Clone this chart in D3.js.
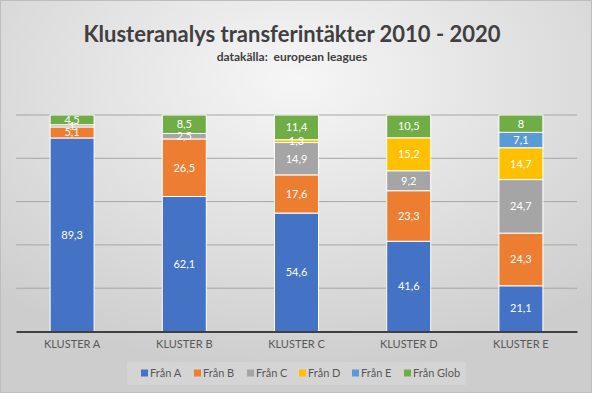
<!DOCTYPE html>
<html><head><meta charset="utf-8">
<script src="https://cdn.jsdelivr.net/npm/d3@7/dist/d3.min.js"></script>
<style>html,body{margin:0;padding:0;}svg{display:block;}</style>
</head><body>
<script>
const categories = ["KLUSTER A","KLUSTER B","KLUSTER C","KLUSTER D","KLUSTER E"];
const seriesNames = ["Från A","Från B","Från C","Från D","Från E","Från Glob"];
const franA = [89.3, 62.1, 54.6, 41.6, 21.1];
const franB = [5.1, 26.5, 17.6, 23.3, 24.3];
const franC = [1, 2.5, 14.9, 9.2, 24.7];
const franD = [0, 0, 1.3, 15.2, 14.7];
const franE = [0, 0, 0, 0, 7.1];
const franGlob = [4.5, 8.5, 11.4, 10.5, 8];
const colors = ["#4472C4","#ED7D31","#A5A5A5","#FFC000","#5B9BD5","#70AD47"];
const yTicks = [0, 0.2, 0.4, 0.6, 0.8, 1];

const W = 592, H = 393;
const font = "Lato, 'Open Sans', sans-serif";
const seriesVals = [franA, franB, franC, franD, franE, franGlob];
const rows = categories.map((c, i) => {
  const r = {cat: c};
  seriesNames.forEach((s, j) => r[s] = seriesVals[j][i]);
  return r;
});
const stack = d3.stack().keys(seriesNames).offset(d3.stackOffsetExpand);
const layers = stack(rows);

const svg = d3.select("body").append("svg").attr("width", W).attr("height", H);
const defs = svg.append("defs");
const grad = defs.append("radialGradient").attr("id","bg").attr("cx","50%").attr("cy","20%").attr("r","75%");
grad.append("stop").attr("offset","0%").attr("stop-color","#f6f6f6");
grad.append("stop").attr("offset","100%").attr("stop-color","#cdcdcd");
svg.append("rect").attr("x",0.5).attr("y",0.5).attr("width",W-1).attr("height",H-1)
  .attr("fill","url(#bg)").attr("stroke","#bdbdbd");

const x = d3.scaleBand().domain(categories).range([16, 577]).paddingInner(0.608).paddingOuter(0.304);
const y = d3.scaleLinear().domain([0,1]).range([331.5, 115]);

// gridlines
svg.append("g").selectAll("line").data(yTicks.slice(1)).join("line")
  .attr("x1",16).attr("x2",577).attr("y1",d=>y(d)).attr("y2",d=>y(d))
  .attr("stroke","#a6a6a6").attr("stroke-width",1);

// bars
const g = svg.append("g");
layers.forEach((layer, j) => {
  g.append("g").selectAll("rect").data(layer.filter(d => d[1]-d[0] > 0)).join("rect")
    .attr("x", d => x(d.data.cat))
    .attr("width", x.bandwidth())
    .attr("y", d => y(d[1]))
    .attr("height", d => y(d[0]) - y(d[1]))
    .attr("fill", colors[j])
    .attr("stroke","#ffffff").attr("stroke-width",1);
});
// labels
layers.forEach((layer, j) => {
  g.append("g").selectAll("text").data(layer.filter(d => d.data[layer.key] > 0)).join("text")
    .attr("x", d => x(d.data.cat) + x.bandwidth()/2)
    .attr("y", d => (y(d[0]) + y(d[1]))/2)
    .attr("dy","0.35em")
    .attr("text-anchor","middle")
    .attr("fill","#ffffff")
    .attr("font-family", font).attr("font-size", 11)
    .text(d => String(d.data[layer.key]).replace(".", ","));
});

// axis
const xAxis = d3.axisBottom(x).tickSize(0).tickPadding(9);
const ax = svg.append("g").attr("transform",`translate(0,${y(0)})`).call(xAxis);
ax.select(".domain").attr("stroke","#404040").attr("stroke-width",2);
ax.selectAll("text").attr("font-family",font).attr("font-size",11).attr("fill","#595959");

// title
svg.append("text").attr("x", 292).attr("y", 42).attr("text-anchor","middle")
  .attr("font-family", font).attr("font-weight","bold").attr("font-size", 22).attr("fill","#404040")
  .text("Klusteranalys transferintäkter 2010 - 2020");
svg.append("text").attr("x", 292).attr("y", 61).attr("text-anchor","middle")
  .attr("font-family", font).attr("font-weight","bold").attr("font-size", 12).attr("fill","#404040")
  .attr("xml:space","preserve")
  .text("datakälla:  european leagues");

// legend
svg.append("rect").attr("x",127).attr("y",362).attr("width",339).attr("height",23)
  .attr("fill","#ffffff").attr("fill-opacity",0.15);
const legX = [141, 194, 247, 299, 352, 404];
const lg = svg.append("g").selectAll("g").data(seriesNames).join("g")
  .attr("transform",(d,i)=>`translate(${legX[i]},373)`);
lg.append("rect").attr("x",0).attr("y",-3.5).attr("width",7).attr("height",7).attr("fill",(d,i)=>colors[i]);
lg.append("text").attr("x",9).attr("dy","0.35em").attr("font-family",font).attr("font-size",11)
  .attr("fill","#595959").text(d=>d);
</script>
</body></html>
